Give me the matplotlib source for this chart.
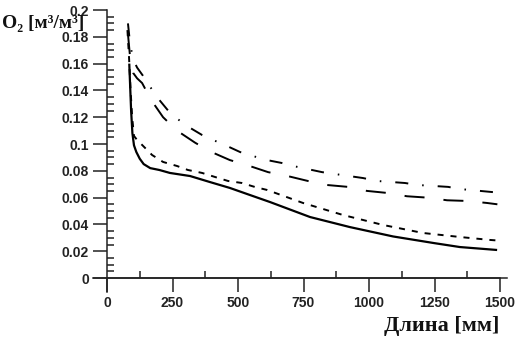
import numpy as np
import matplotlib
matplotlib.use("Agg")
import matplotlib.pyplot as plt
from matplotlib.ticker import MultipleLocator

# curve data (mm, m3/m3)
x_solid = [85, 88, 92, 97, 103, 112, 125, 140, 165, 200, 240, 317, 393, 469, 546,
           622, 775, 927, 1092, 1250, 1347, 1489]
y_solid = [0.160, 0.145, 0.125, 0.108, 0.099, 0.094, 0.089, 0.085, 0.082, 0.0806,
           0.0784, 0.0761, 0.0716, 0.0672, 0.0619, 0.0567, 0.0455, 0.038, 0.031,
           0.026, 0.0231, 0.0209]

x_dot = [78, 84, 90, 96, 103, 115, 125, 134, 172, 214, 267, 309, 363, 412, 462, 515,
         565, 611, 748, 901, 1053, 1206, 1347, 1462, 1490]
y_dot = [0.185, 0.165, 0.140, 0.120, 0.106, 0.103, 0.101, 0.0993, 0.0918, 0.0866,
         0.0836, 0.0806, 0.0784, 0.0754, 0.0724, 0.0709, 0.0679, 0.0657, 0.056,
         0.047, 0.0396, 0.0336, 0.0306, 0.0284, 0.028]

x_dash = [80, 88, 100, 115, 134, 168, 214, 267, 336, 393, 469, 538, 615, 691, 767,
          840, 920, 992, 1073, 1145, 1221, 1298, 1374, 1450, 1490]
y_dash = [0.182, 0.165, 0.153, 0.149, 0.1455, 0.133, 0.120, 0.110, 0.101, 0.0945,
          0.088, 0.084, 0.079, 0.076, 0.0724, 0.0694, 0.068, 0.065, 0.0634, 0.061,
          0.060, 0.058, 0.0575, 0.056, 0.055]

x_dashdot = [80, 88, 100, 115, 137, 160, 195, 233, 267, 309, 363, 405, 458, 508, 557,
             611, 668, 710, 821, 870, 977, 1031, 1137, 1187, 1302, 1347, 1489]
y_dashdot = [0.190, 0.175, 0.163, 0.157, 0.151, 0.144, 0.134, 0.125, 0.119, 0.113,
             0.1067, 0.103, 0.0985, 0.094, 0.091, 0.088, 0.0858, 0.0836, 0.079,
             0.0776, 0.0746, 0.0724, 0.0709, 0.0694, 0.068, 0.0664, 0.0638]

fig = plt.figure(figsize=(5.15, 3.39), dpi=100)
ax = fig.add_axes([107/515, 1 - 278/339, 393/515, 268/339])

lw = 1.4
ax.plot(x_solid, y_solid, color='black', lw=1.6, solid_capstyle='butt')
ax.plot(x_dot, y_dot, color='black', lw=lw, linestyle=(0, (3.1, 3.6)))
ax.plot(x_dash, y_dash, color='black', lw=lw, linestyle=(0, (10.3, 9.8)))
ax.plot(x_dashdot, y_dashdot, color='black', lw=lw, linestyle=(0, (6.7, 7.2, 0.8, 7.2)))

ax.set_xlim(0, 1500)
ax.set_ylim(0, 0.2)

for s in ['top', 'right']:
    ax.spines[s].set_visible(False)
for s in ['left', 'bottom']:
    ax.spines[s].set_linewidth(1.1)
    ax.spines[s].set_color('#222222')

# axis lines run a little past the origin, as in the original
ax.plot([0, 0], [-14/268, 0], transform=ax.transAxes, color='#222222', lw=1.1,
        clip_on=False)
ax.plot([-14/393, 1.018], [0, 0], transform=ax.transAxes, color='#222222', lw=1.1,
        clip_on=False)

ax.xaxis.set_major_locator(MultipleLocator(250))
ax.xaxis.set_minor_locator(MultipleLocator(125))
ax.yaxis.set_major_locator(MultipleLocator(0.02))
ax.yaxis.set_minor_locator(MultipleLocator(0.005))
ax.tick_params(which='major', direction='out', length=10, width=1.1, color='#222222',
               pad=3, labelsize=10, labelcolor='#222222')
ax.tick_params(which='minor', direction='in', length=5, width=1.1, color='#222222')

ax.set_yticks(np.arange(0, 0.201, 0.02))
ax.set_yticklabels(['0', '0.02', '0.04', '0.06', '0.08', '0.1', '0.12', '0.14',
                    '0.16', '0.18', '0.2'])
for lab in ax.get_xticklabels() + ax.get_yticklabels():
    lab.set_fontfamily('Liberation Sans')
    lab.set_fontweight('bold')

fig.text(2/515, 1 - 23/339, 'O\u2082 [м\u00b3/м\u00b3]', family=['Liberation Serif', 'DejaVu Serif'],
         fontweight='bold', fontsize=14, ha='left', va='center', color='#111111')
fig.text(499/515, 1 - 326/339, 'Длина [мм]', family=['Liberation Serif', 'DejaVu Serif'],
         fontweight='bold', fontsize=16, ha='right', va='center', color='#111111')

fig.savefig('out.png', dpi=100)
